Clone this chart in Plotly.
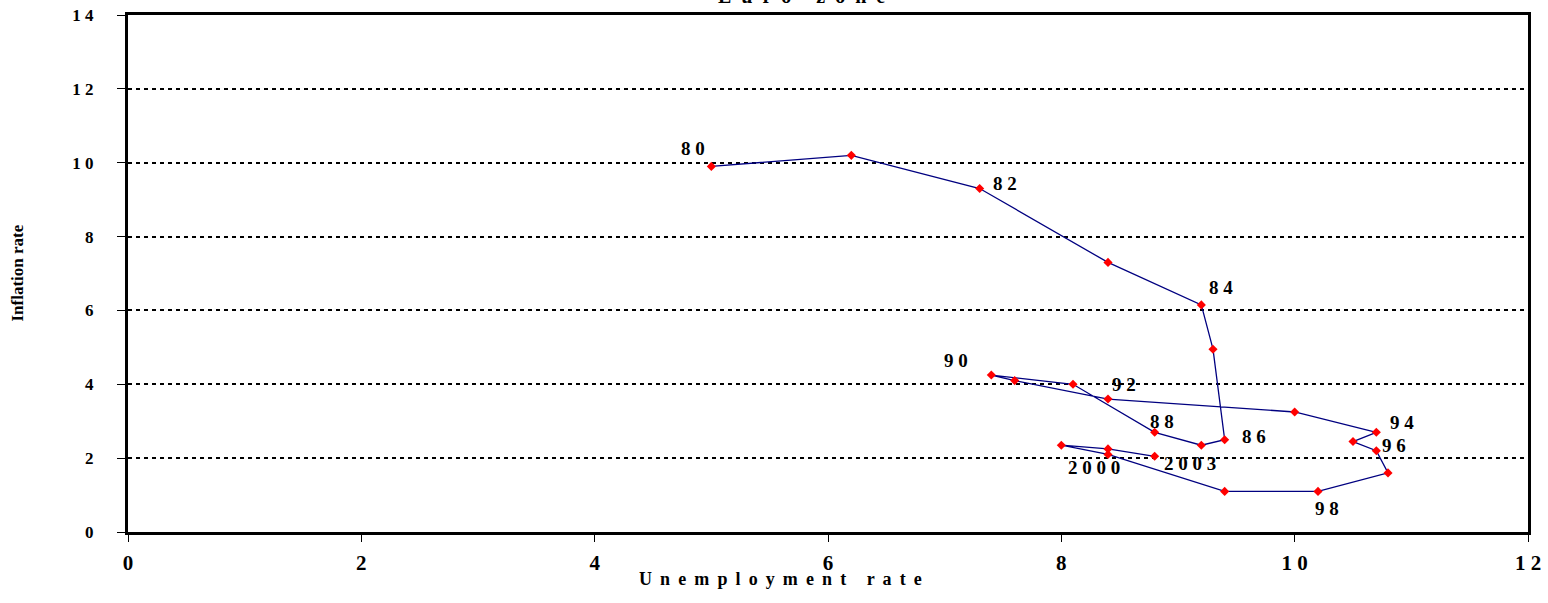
import plotly.graph_objects as go

# Euro zone: unemployment vs inflation, 1980-2003
years = list(range(1980, 2004))
unemployment = [5.0, 6.2, 7.3, 8.4, 9.2, 9.3, 9.4, 9.2, 8.8, 8.1, 7.4, 7.6,
                8.4, 10.0, 10.7, 10.5, 10.7, 10.8, 10.2, 9.4, 8.4, 8.0, 8.4, 8.8]
inflation = [9.9, 10.2, 9.3, 7.3, 6.15, 4.95, 2.5, 2.35, 2.7, 4.0, 4.25, 4.1,
             3.6, 3.25, 2.7, 2.45, 2.2, 1.6, 1.1, 1.1, 2.1, 2.35, 2.25, 2.05]

labelled_years = [1980, 1982, 1984, 1986, 1988, 1990, 1992, 1994, 1996, 1998, 2000, 2003]
x_ticks = [0, 2, 4, 6, 8, 10, 12]
y_ticks = [0, 2, 4, 6, 8, 10, 12, 14]

# pixel offsets of each year label from its point (right, up)
label_offsets = {
    1980: (-18, 18), 1982: (25, 5), 1984: (20, 17), 1986: (29, 3),
    1988: (7, 11), 1990: (-35, 15), 1992: (16, 15), 1994: (26, 10),
    1996: (18, 5), 1998: (9, -17), 2000: (-14, -13), 2003: (35, -7),
}

SERIF = "Liberation Serif"


def spaced(s, gap=" "):
    return gap.join(str(s))


def year_label(y):
    return spaced(y if y >= 2000 else y % 100)


fig = go.Figure()
fig.add_trace(go.Scatter(
    x=unemployment, y=inflation, mode="lines+markers",
    line=dict(color="#000080", width=1.3),
    marker=dict(symbol="diamond", size=7, color="#ff0000"),
    hoverinfo="skip", showlegend=False,
))

annotations = []
for yr, ux, iy in zip(years, unemployment, inflation):
    if yr in labelled_years:
        dx, dy = label_offsets[yr]
        annotations.append(dict(
            x=ux, y=iy, xref="x", yref="y", text=year_label(yr), showarrow=False,
            xshift=dx, yshift=dy, xanchor="center", yanchor="middle",
            font=dict(family=SERIF, size=19, color="black", weight="bold"),
        ))

gap = " \u2009"
annotations.append(dict(
    x=0.466, y=0, xref="paper", yref="paper", yshift=-47,
    xanchor="center", yanchor="middle", showarrow=False,
    text=gap.join("Unemployment rate".replace(" ", "\u00a0")),
    font=dict(family=SERIF, size=18, color="black", weight="bold"),
))
annotations.append(dict(
    x=0, y=0.5, xref="paper", yref="paper", xshift=-111,
    xanchor="center", yanchor="middle", showarrow=False, textangle=-90,
    text="Inflation rate",
    font=dict(family=SERIF, size=17, color="black", weight="bold"),
))
annotations.append(dict(
    x=0.481, y=1, xref="paper", yref="paper", yshift=6,
    xanchor="center", yanchor="bottom", showarrow=False,
    text="\u00a0\u00a0".join("Euro zone".replace(" ", "\u00a0")),
    font=dict(family=SERIF, size=20, color="black", weight="bold"),
))

fig.update_layout(
    width=1548, height=603,
    margin=dict(l=128, r=20, t=15, b=71, autoexpand=False),
    paper_bgcolor="white", plot_bgcolor="white",
    annotations=annotations,
    xaxis=dict(
        range=[0, 12], tickvals=x_ticks, ticktext=[spaced(v) for v in x_ticks],
        showgrid=False, zeroline=False, automargin=False,
        showline=True, linecolor="black", linewidth=3, mirror=True,
        ticks="outside", ticklen=7, tickcolor="black", tickwidth=1,
        ticklabelstandoff=3,
        tickfont=dict(family=SERIF, size=21, color="black", weight="bold"),
    ),
    yaxis=dict(
        range=[0, 14], tickvals=y_ticks, ticktext=[spaced(v) for v in y_ticks],
        showgrid=True, gridcolor="black", gridwidth=2, griddash="4px,4px",
        zeroline=False, automargin=False,
        showline=True, linecolor="black", linewidth=3, mirror=True,
        ticks="outside", ticklen=8, tickcolor="black", tickwidth=1,
        ticklabelstandoff=20,
        tickfont=dict(family=SERIF, size=17, color="black", weight="bold"),
    ),
)

fig.write_html("out.html")
